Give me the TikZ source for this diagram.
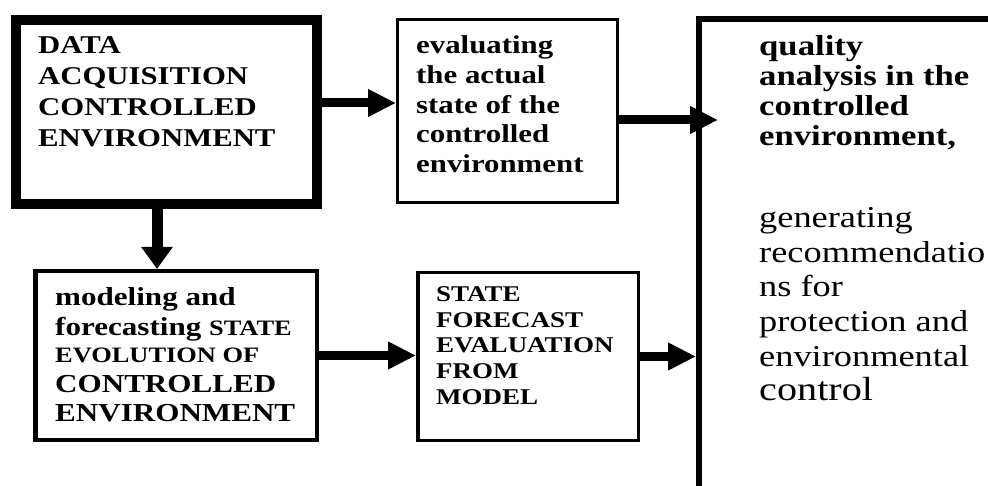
\documentclass[tikz,border=0pt]{standalone}
\usepackage{fontspec}
\setmainfont[FakeStretch=1.2]{Liberation Serif}
\usetikzlibrary{arrows.meta}
\begin{document}
\begin{tikzpicture}[x=1pt,y=1pt,
  box/.style={draw=black, line width=#1, inner sep=0pt, anchor=north west, fill=white},
  txt/.style={anchor=north west, inner sep=0pt, align=left},
  harr/.style={line width=9pt, -{Triangle[length=28pt,width=26pt]}},
  varr/.style={line width=11pt, -{Triangle[length=22pt,width=30pt]}}]
\useasboundingbox (0,0) rectangle (988,-486);
\clip (0,0) rectangle (988,-486);
% boxes
\node[box=10pt, minimum width=301pt, minimum height=184pt] (A) at (11,-15) {};
\node[box=3pt, minimum width=220pt, minimum height=183pt] (B) at (396,-18) {};
\node[box=4.5pt, minimum width=281.5pt, minimum height=168.5pt] (C) at (33,-269) {};
\node[box=3.5pt, minimum width=220.5pt, minimum height=167.5pt] (D) at (416,-271) {};
\node[box=6pt, minimum width=400pt, minimum height=600pt] (R) at (696,-16) {};
% texts
\node[txt, font=\bfseries\fontsize{25.6}{31}\selectfont] (tA) at (38,-36.5) {DATA\\ACQUISITION\\CONTROLLED\\ENVIRONMENT};
\node[txt, font=\bfseries\fontsize{25.7}{29.8}\selectfont] (tB) at (416,-35.5) {evaluating\\the actual\\state of the\\controlled\\environment};
\node[txt, font=\bfseries\fontsize{25.9}{29.5}\selectfont] (tC) at (55,-287.5) {modeling and\\forecasting {\fontsize{22}{29}\selectfont STATE}\\[-2pt]{\fontsize{22}{27}\selectfont EVOLUTION OF}\\CONTROLLED\\ENVIRONMENT};
\node[txt, font=\bfseries\fontsize{22.5}{25.7}\selectfont] (tD) at (436,-286.5) {STATE\\FORECAST\\EVALUATION\\FROM\\MODEL};
\node[txt, font=\bfseries\fontsize{28.9}{30}\selectfont] (tR) at (759,-35.5) {quality\\analysis in the\\controlled\\environment,};
\node[txt, font=\fontsize{30.3}{34.6}\selectfont] (tR2) at (759,-207.5) {generating\\recommendatio\\ns for\\protection and\\environmental\\{\fontsize{33.5}{35}\selectfont control}};
% connectors
\coordinate (yab) at (0,-103);
\coordinate (xac) at (157,0);
\coordinate (ybr) at (0,-120);
\coordinate (tipbr) at (718,-120);
\draw[harr] (A.east |- yab) -- (B.west |- yab);
\draw[varr] (A.south -| xac) -- (C.north -| xac);
\draw[harr] (C.east) -- (C.east -| D.west);
\draw[harr] (B.east |- ybr) -- (tipbr);
\draw[harr] (D.east) -- (D.east -| R.west);
\end{tikzpicture}
\end{document}
